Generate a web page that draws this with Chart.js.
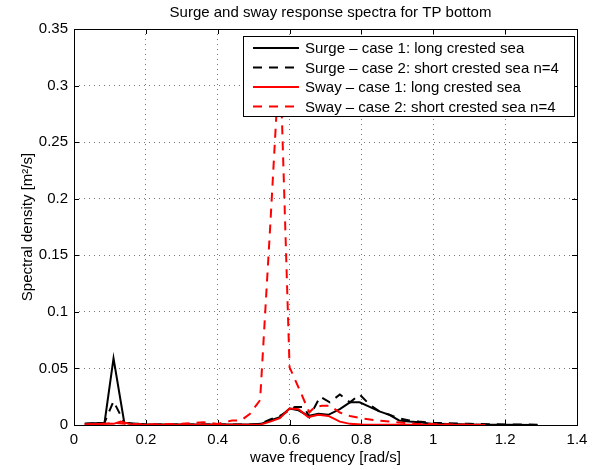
<!DOCTYPE html>
<html>
<head>
<meta charset="utf-8">
<script src="https://cdn.jsdelivr.net/npm/chart.js@4"></script>
<style>
  html, body { margin: 0; padding: 0; background: #fff; }
  canvas { display: block; }
</style>
</head>
<body>
<canvas id="spectra" width="599" height="470"></canvas>
<script>
// Surge / sway response spectra

const xTicks = [0, 0.2, 0.4, 0.6, 0.8, 1, 1.2, 1.4];
const yTicks = [0, 0.05, 0.1, 0.15, 0.2, 0.25, 0.3, 0.35];

const labels = [
  'Surge \u2013 case 1: long crested sea',
  'Surge \u2013 case 2: short crested sea n=4',
  'Sway \u2013 case 1: long crested sea',
  'Sway \u2013 case 2: short crested sea n=4'
];

// surge, case 1 (black solid)
const surgeLongFreq = [0.03, 0.085, 0.11, 0.14, 0.2, 0.3, 0.4, 0.49, 0.52, 0.546, 0.573, 0.60, 0.625, 0.652, 0.68, 0.708, 0.74, 0.768, 0.795, 0.823, 0.85, 0.878, 0.905, 0.933, 0.96, 1.0, 1.05, 1.1, 1.15, 1.2, 1.29];
const surgeLong     = [0.001, 0.002, 0.059, 0.002, 0.0005, 0.0005, 0.0005, 0.0005, 0.001, 0.004, 0.007, 0.0145, 0.013, 0.008, 0.010, 0.009, 0.014, 0.020, 0.020, 0.016, 0.012, 0.009, 0.004, 0.003, 0.0025, 0.001, 0.0008, 0.0005, 0.0003, 0.0002, 0.0001];

// surge, case 2 (black dashed)
const surgeShortFreq = [0.03, 0.085, 0.11, 0.14, 0.2, 0.3, 0.4, 0.49, 0.52, 0.546, 0.573, 0.60, 0.615, 0.64, 0.655, 0.685, 0.712, 0.74, 0.768, 0.795, 0.823, 0.85, 0.878, 0.905, 0.933, 0.96, 1.0, 1.1, 1.2, 1.29];
const surgeShort     = [0.001, 0.002, 0.021, 0.002, 0.0005, 0.0005, 0.0005, 0.0005, 0.001, 0.005, 0.008, 0.013, 0.016, 0.016, 0.007, 0.025, 0.020, 0.027, 0.020, 0.027, 0.018, 0.012, 0.009, 0.006, 0.004, 0.003, 0.002, 0.001, 0.0005, 0.0003];

// sway, case 1 (red solid)
const swayLongFreq = [0.03, 0.085, 0.11, 0.13, 0.16, 0.3, 0.49, 0.52, 0.546, 0.573, 0.60, 0.625, 0.652, 0.68, 0.708, 0.74, 0.768, 0.8, 0.9, 1.0, 1.144];
const swayLong     = [0.0005, 0.001, 0.001, 0.003, 0.0005, 0.0003, 0.0003, 0.0005, 0.003, 0.006, 0.0145, 0.014, 0.007, 0.009, 0.008, 0.003, 0.001, 0.0005, 0.0003, 0.0002, 0.0001];

// sway, case 2 (red dashed)
const swayShortFreq = [0.03, 0.085, 0.11, 0.14, 0.2, 0.3, 0.36, 0.4, 0.44, 0.465, 0.49, 0.518, 0.546, 0.573, 0.60, 0.628, 0.655, 0.67, 0.69, 0.712, 0.74, 0.768, 0.8, 0.84, 0.88, 0.95, 1.05, 1.144];
const swayShort     = [0.0005, 0.001, 0.002, 0.001, 0.0005, 0.001, 0.0025, 0.001, 0.004, 0.004, 0.010, 0.022, 0.175, 0.33, 0.051, 0.031, 0.011, 0.016, 0.017, 0.017, 0.011, 0.008, 0.006, 0.004, 0.003, 0.001, 0.0005, 0.0001];

const FONT = '"Liberation Sans", Arial, Helvetica, sans-serif';
const DASH = [9, 7];

function pts(xs, ys) {
  return xs.map((x, i) => ({ x: x, y: ys[i] }));
}

function fmt(v) {
  return String(Number(v.toFixed(2)));
}

// frame, inward ticks, title and legend box, drawn the MATLAB way
const matlabFrame = {
  id: 'matlabFrame',
  beforeDatasetsDraw(chart) {
    const { ctx, chartArea: a, scales } = chart;
    ctx.save();
    ctx.strokeStyle = '#000';
    ctx.lineWidth = 1;
    ctx.beginPath();
    xTicks.forEach(v => {
      const px = Math.round(scales.x.getPixelForValue(v)) + 0.5;
      ctx.moveTo(px, a.bottom); ctx.lineTo(px, a.bottom - 5);
      ctx.moveTo(px, a.top); ctx.lineTo(px, a.top + 5);
    });
    yTicks.forEach(v => {
      const py = Math.round(scales.y.getPixelForValue(v)) + 0.5;
      ctx.moveTo(a.left, py); ctx.lineTo(a.left + 5, py);
      ctx.moveTo(a.right, py); ctx.lineTo(a.right - 5, py);
    });
    ctx.stroke();
    ctx.restore();
  },
  afterDraw(chart) {
    const { ctx, chartArea: a } = chart;
    ctx.save();
    ctx.strokeStyle = '#000';
    ctx.lineWidth = 1;
    ctx.strokeRect(Math.round(a.left) + 0.5, Math.round(a.top) + 0.5,
                   Math.round(a.right - a.left), Math.round(a.bottom - a.top));

    // title
    ctx.fillStyle = '#000';
    ctx.font = '15px ' + FONT;
    ctx.textAlign = 'center';
    ctx.textBaseline = 'middle';
    ctx.fillText('Surge and sway response spectra for TP bottom', (a.left + a.right) / 2 + 5, 13);

    // legend
    const bx = 243, by = 36, bw = 331, bh = 80;
    ctx.fillStyle = '#fff';
    ctx.fillRect(bx, by, bw, bh);
    ctx.strokeRect(bx + 0.5, by + 0.5, bw, bh);
    ctx.font = '15px ' + FONT;
    ctx.textAlign = 'left';
    chart.data.datasets.forEach((ds, i) => {
      const y = by + 12 + i * 19.5;
      ctx.strokeStyle = ds.borderColor;
      ctx.lineWidth = 2;
      ctx.setLineDash(ds.borderDash || []);
      ctx.beginPath();
      ctx.moveTo(bx + 10, y);
      ctx.lineTo(bx + 56, y);
      ctx.stroke();
      ctx.setLineDash([]);
      ctx.fillStyle = '#000';
      ctx.fillText(ds.label, bx + 62, y + 1);
    });
    ctx.restore();
  }
};

new Chart(document.getElementById('spectra'), {
  type: 'line',
  data: {
    datasets: [
      { label: labels[0], data: pts(surgeLongFreq, surgeLong), borderColor: '#000000', borderWidth: 2, order: 4 },
      { label: labels[1], data: pts(surgeShortFreq, surgeShort), borderColor: '#000000', borderWidth: 2, borderDash: DASH, order: 3 },
      { label: labels[2], data: pts(swayLongFreq, swayLong), borderColor: '#ff0000', borderWidth: 2, order: 2 },
      { label: labels[3], data: pts(swayShortFreq, swayShort), borderColor: '#ff0000', borderWidth: 2, borderDash: DASH, order: 1 }
    ]
  },
  options: {
    responsive: false,
    animation: false,
    devicePixelRatio: 1,
    layout: { padding: { left: 19, right: 22, top: 29, bottom: 0 } },
    elements: {
      point: { radius: 0 },
      line: { tension: 0, fill: false, borderCapStyle: 'butt', borderJoinStyle: 'miter' }
    },
    plugins: {
      legend: { display: false },
      title: { display: false },
      tooltip: { enabled: false }
    },
    scales: {
      x: {
        type: 'linear',
        min: 0, max: 1.4,
        afterBuildTicks: s => { s.ticks = xTicks.map(v => ({ value: v })); },
        afterFit: s => { s.height = 45; },
        grid: { color: '#777', drawTicks: false, lineWidth: 1 },
        border: { display: false, dash: [1, 4] },
        ticks: { color: '#000', font: { family: FONT, size: 15 }, padding: 6, callback: v => fmt(v) },
        title: { display: true, text: 'wave frequency [rad/s]', color: '#000', font: { family: FONT, size: 15 }, padding: { top: 2, bottom: 3 } }
      },
      y: {
        type: 'linear',
        min: 0, max: 0.35,
        afterBuildTicks: s => { s.ticks = yTicks.map(v => ({ value: v })); },
        afterFit: s => { s.width = 55; },
        grid: { color: '#777', drawTicks: false, lineWidth: 1 },
        border: { display: false, dash: [1, 4] },
        ticks: { color: '#000', font: { family: FONT, size: 15 }, padding: 6, callback: v => fmt(v) },
        title: { display: true, text: 'Spectral density [m\u00b2/s]', color: '#000', font: { family: FONT, size: 15 }, padding: { top: 0, bottom: 6 } }
      }
    }
  },
  plugins: [matlabFrame]
});
</script>
</body>
</html>
